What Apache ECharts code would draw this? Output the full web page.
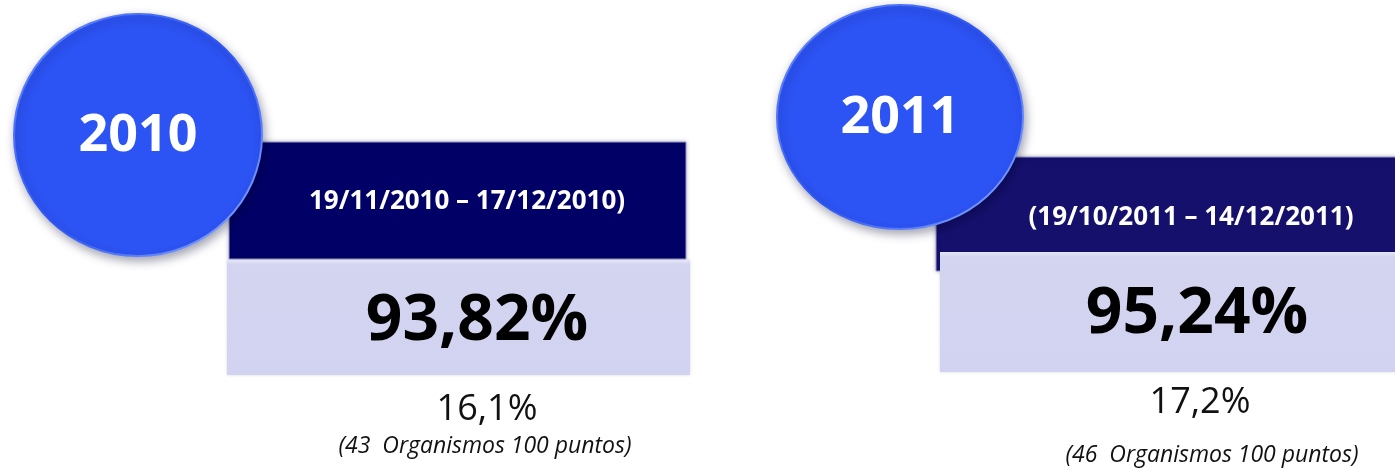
<!DOCTYPE html>
<html>
<head>
<meta charset="utf-8">
<script src="https://cdn.jsdelivr.net/npm/echarts@6/dist/echarts.min.js"></script>
<style>
  html, body { margin: 0; padding: 0; background: #fff; }
  #chart { width: 1395px; height: 468px; }
</style>
</head>
<body>
<div id="chart"></div>
<script>
// datos de cada periodo
const years = ['2010', '2011'];
const periods = ['19/11/2010 – 17/12/2010)', '(19/10/2011 – 14/12/2011)'];
const rates = ['93,82%', '95,24%'];
const shares = ['16,1%', '17,2%'];
const notes = ['(43  Organismos 100 puntos)', '(46  Organismos 100 puntos)'];

// geometria de cada panel (circulo, caja oscura, caja clara, textos)
const layout = [
  { cx: 138, cy: 135, rx: 124, ry: 121, dark: [229, 142, 457, 117], darkColor: '#000066',
    light: [227, 260, 463, 115], dateX: 467, dateY: 202, rateX: 477, rateY: 322, shareX: 487, shareY: 410, noteX: 485, noteY: 446 },
  { cx: 900, cy: 117, rx: 123, ry: 112, dark: [936, 157, 470, 114], darkColor: '#14106C',
    light: [940, 252, 460, 120], dateX: 1191, dateY: 218, rateX: 1197, rateY: 315, shareX: 1200, shareY: 403, noteX: 1212, noteY: 455 },
];

const font = '"Open Sans", "Noto Sans", sans-serif';
const chart = echarts.init(document.getElementById('chart'));

const elements = [];
years.forEach((y, i) => {
  const L = layout[i];
  const [dx, dy, dw, dh] = L.dark;
  const [lx, ly, lw, lh] = L.light;
  elements.push({
    type: 'rect', z: 1,
    shape: { x: dx, y: dy, width: dw, height: dh },
    style: { fill: L.darkColor, stroke: '#9a9ad8', lineWidth: 1, shadowBlur: 4, shadowColor: 'rgba(0,0,0,0.25)' },
  });
  elements.push({
    type: 'rect', z: 2,
    shape: { x: lx, y: ly, width: lw, height: lh },
    style: {
      fill: new echarts.graphic.LinearGradient(0, 0, 0, 1, [
        { offset: 0, color: '#E6E6F8' }, { offset: 0.04, color: '#D3D4F0' }, { offset: 1, color: '#D2D3F0' },
      ]),
      shadowBlur: 3, shadowColor: 'rgba(0,0,0,0.15)',
    },
  });
  elements.push({
    type: 'text', z: 3,
    style: { text: periods[i], x: L.dateX, y: L.dateY, align: 'center', verticalAlign: 'middle',
      fill: '#fff', font: 'bold 26px ' + font },
  });
  elements.push({
    type: 'text', z: 3,
    style: { text: rates[i], x: L.rateX, y: L.rateY, align: 'center', verticalAlign: 'middle',
      fill: '#000', font: 'bold 64px ' + font },
  });
  elements.push({
    type: 'text', z: 3,
    style: { text: shares[i], x: L.shareX, y: L.shareY, align: 'center', verticalAlign: 'middle',
      fill: '#111', font: '36px ' + font },
  });
  elements.push({
    type: 'text', z: 3,
    style: { text: notes[i], x: L.noteX, y: L.noteY, align: 'center', verticalAlign: 'middle',
      fill: '#111', font: 'italic 23px ' + font },
  });
  // circulo del año
  elements.push({
    type: 'ellipse', z: 5,
    shape: { cx: L.cx, cy: L.cy, rx: L.rx, ry: L.ry },
    style: {
      fill: '#2C53F4',
      stroke: new echarts.graphic.LinearGradient(0, 0, 1, 1, [
        { offset: 0, color: '#6E90FA' }, { offset: 0.5, color: '#2C53F4' }, { offset: 1, color: '#8FB0FF' },
      ]),
      lineWidth: 2,
      shadowBlur: 10, shadowOffsetX: 2, shadowOffsetY: 4, shadowColor: 'rgba(0,0,40,0.35)',
    },
  });
  elements.push({
    type: 'text', z: 6,
    style: { text: y, x: L.cx, y: L.cy + 1, align: 'center', verticalAlign: 'middle',
      fill: '#fff', font: 'bold 52px ' + font },
  });
});

chart.setOption({
  animation: false,
  backgroundColor: '#fff',
  graphic: { elements },
});
</script>
</body>
</html>
